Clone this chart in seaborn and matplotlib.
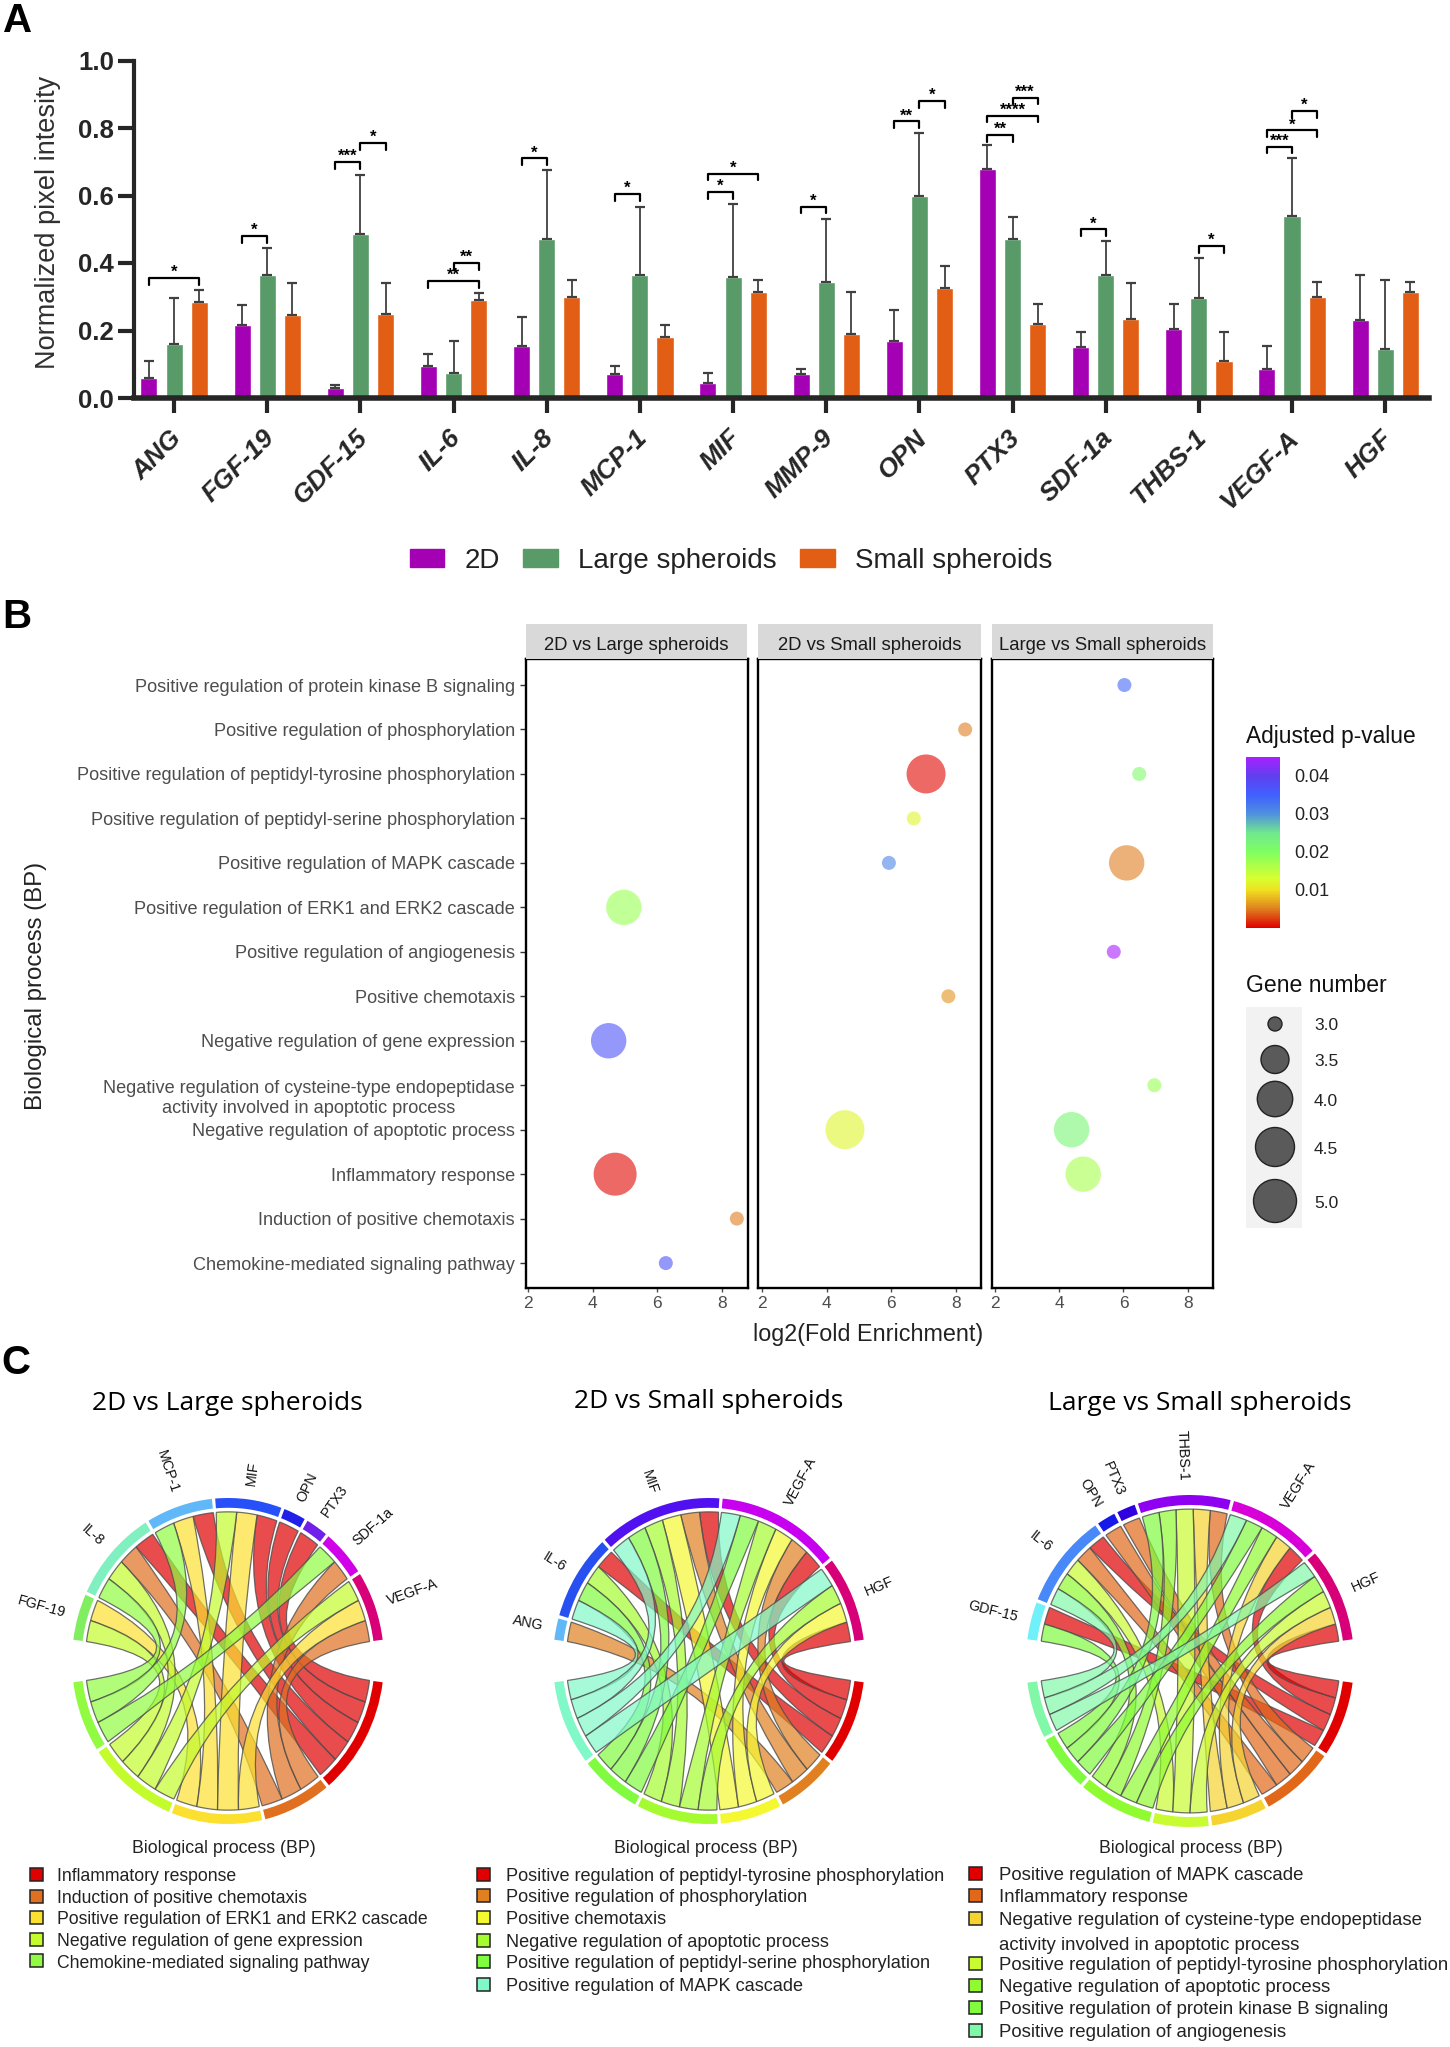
import numpy as np
import pandas as pd
import matplotlib
matplotlib.use("Agg")
import matplotlib.pyplot as plt
import seaborn as sns
from matplotlib.colors import LinearSegmentedColormap, Normalize
from matplotlib.cm import ScalarMappable
from matplotlib.patches import PathPatch, Rectangle, Wedge
from matplotlib.path import Path
from matplotlib.transforms import ScaledTranslation

# ------------------------------- Panel A data
genes_a = ["ANG", "FGF-19", "GDF-15", "IL-6", "IL-8", "MCP-1", "MIF", "MMP-9", "OPN", "PTX3",
           "SDF-1a", "THBS-1", "VEGF-A", "HGF"]
groups_a = ["2D", "Large spheroids", "Small spheroids"]
colors_a = ["#A400B4", "#589A68", "#E25E14"]
mean_2d = [.06, .215, .03, .095, .155, .07, .045, .07, .17, .68, .15, .205, .085, .23]
mean_large = [.16, .365, .485, .075, .47, .365, .36, .345, .60, .47, .365, .295, .54, .145]
mean_small = [.285, .245, .25, .29, .30, .18, .315, .19, .325, .22, .235, .11, .30, .315]
top_2d = [.11, .275, .04, .13, .24, .095, .075, .085, .26, .75, .195, .28, .155, .365]
top_large = [.295, .445, .66, .17, .675, .565, .575, .53, .785, .535, .465, .415, .71, .35]
top_small = [.32, .34, .34, .31, .35, .215, .35, .315, .39, .28, .34, .195, .345, .345]
# gene index, first group, second group, height, stars
brackets_a = [(0, 0, 2, .356, "*"), (1, 0, 1, .48, "*"), (2, 0, 1, .70, "***"), (2, 1, 2, .756, "*"),
              (3, 0, 2, .346, "**"), (3, 1, 2, .40, "**"), (4, 0, 1, .71, "*"), (5, 0, 1, .605, "*"),
              (6, 0, 1, .61, "*"), (6, 0, 2, .665, "*"), (7, 0, 1, .567, "*"), (8, 0, 1, .82, "**"),
              (8, 1, 2, .88, "*"), (9, 0, 1, .78, "**"), (9, 0, 2, .837, "****"), (9, 1, 2, .89, "***"),
              (10, 0, 1, .50, "*"), (11, 1, 2, .45, "*"), (12, 0, 1, .745, "***"), (12, 0, 2, .793, "*"),
              (12, 1, 2, .85, "*")]

# ------------------------------- Panel B data
terms_b = ["Positive regulation of protein kinase B signaling",
           "Positive regulation of phosphorylation",
           "Positive regulation of peptidyl-tyrosine phosphorylation",
           "Positive regulation of peptidyl-serine phosphorylation",
           "Positive regulation of MAPK cascade",
           "Positive regulation of ERK1 and ERK2 cascade",
           "Positive regulation of angiogenesis",
           "Positive chemotaxis",
           "Negative regulation of gene expression",
           "Negative regulation of cysteine-type endopeptidase\nactivity involved in apoptotic process",
           "Negative regulation of apoptotic process",
           "Inflammatory response",
           "Induction of positive chemotaxis",
           "Chemokine-mediated signaling pathway"]
panels_b = ["2D vs Large spheroids", "2D vs Small spheroids", "Large vs Small spheroids"]
b_panel = [0, 0, 0, 0, 0,
           1, 1, 1, 1, 1, 1,
           2, 2, 2, 2, 2, 2, 2]
b_term = [5, 8, 11, 12, 13,
          1, 2, 3, 4, 7, 10,
          0, 2, 4, 6, 9, 10, 11]
b_fold = [4.97, 4.5, 4.7, 8.47, 6.27,
          8.29, 7.08, 6.7, 5.93, 7.77, 4.57,
          6.03, 6.49, 6.1, 5.7, 6.96, 4.39, 4.75]
b_padj = [.018, .037, .0002, .005, .037,
          .005, .0002, .012, .031, .006, .012,
          .034, .021, .005, .045, .018, .022, .017]
b_genes = [4, 4, 5, 3, 3,
           3, 4.5, 3, 3, 3, 4.5,
           3, 3, 4, 3, 3, 4, 4]
gene_levels = [3.0, 3.5, 4.0, 4.5, 5.0]
gene_radii_px = [7, 14, 17.7, 19.5, 21.5]
padj_stops = [(0, "#E00000"), (.005, "#E08020"), (.010, "#F0E020"), (.013, "#D8FF30"),
              (.020, "#80FF60"), (.025, "#70E890"), (.030, "#5090E0"), (.035, "#4060FF"),
              (.040, "#6040F0"), (.045, "#A820FF")]

# ------------------------------- Panel C data
c1_genes = ["FGF-19", "IL-8", "MCP-1", "MIF", "OPN", "PTX3", "SDF-1a", "VEGF-A"]
c1_gene_colors = ["#80EE60", "#80F0C0", "#60B8F8", "#2850F8", "#2020E8", "#7020E8", "#D000E8", "#D80078"]
c1_bps = ["Inflammatory response", "Induction of positive chemotaxis",
          "Positive regulation of ERK1 and ERK2 cascade", "Negative regulation of gene expression",
          "Chemokine-mediated signaling pathway"]
c1_bp_colors = ["#E00000", "#E07020", "#FBE030", "#C4FB2C", "#90FB40"]
c1_links = [[3, 2], [4, 3, 1, 0], [4, 2, 0], [3, 2, 0], [0], [0], [4, 1], [3, 2, 1]]

c2_genes = ["ANG", "IL-6", "MIF", "VEGF-A", "HGF"]
c2_gene_colors = ["#60B8F8", "#2850F0", "#5010F0", "#C800F0", "#D80078"]
c2_bps = ["Positive regulation of peptidyl-tyrosine phosphorylation", "Positive regulation of phosphorylation",
          "Positive chemotaxis", "Negative regulation of apoptotic process",
          "Positive regulation of peptidyl-serine phosphorylation", "Positive regulation of MAPK cascade"]
c2_bp_colors = ["#E00000", "#E08020", "#F4F830", "#A4FB30", "#80FB40", "#80F8C8"]
c2_links = [[1], [5, 4, 3, 0], [5, 4, 3, 2, 1, 0], [5, 4, 3, 2, 1, 0], [5, 3, 2, 0]]

c3_genes = ["GDF-15", "IL-6", "OPN", "PTX3", "THBS-1", "VEGF-A", "HGF"]
c3_gene_colors = ["#70F0F8", "#4888F8", "#1818E8", "#3000E0", "#9000F0", "#D800D8", "#D80078"]
c3_bps = ["Positive regulation of MAPK cascade", "Inflammatory response",
          "Negative regulation of cysteine-type endopeptidase\nactivity involved in apoptotic process",
          "Positive regulation of peptidyl-tyrosine phosphorylation", "Negative regulation of apoptotic process",
          "Positive regulation of protein kinase B signaling", "Positive regulation of angiogenesis"]
c3_bp_colors = ["#E00000", "#E06818", "#F6D430", "#C8FB30", "#90FB30", "#80FB40", "#80F8A8"]
c3_links = [[5, 0], [6, 4, 3, 1, 0], [1], [1], [5, 4, 3, 2, 1], [6, 5, 4, 2, 0], [6, 4, 3, 2, 0]]

# ------------------------------- Setup
W, H = 1450, 2047
sns.set_style("white")
plt.rcParams["font.family"] = ["Liberation Sans", "DejaVu Sans"]
fig = plt.figure(figsize=(W / 100, H / 100), dpi=100, facecolor="white")


def px_axes(x0, y0, x1, y1, **kw):
    return fig.add_axes([x0 / W, 1 - y1 / H, (x1 - x0) / W, (y1 - y0) / H], **kw)


ov = px_axes(0, 0, W, H, zorder=10)
ov.set_xlim(0, W)
ov.set_ylim(H, 0)
ov.axis("off")
ov.patch.set_alpha(0)

for letter, x, y in [("A", 3, 21), ("B", 2, 617), ("C", 1, 1363)]:
    ov.text(x, y, letter, fontsize=29, fontweight="bold", va="center", ha="left", color="black")

# ------------------------------- Panel A
ax = px_axes(134, 60.5, 1429, 398)
df_a = pd.DataFrame({"gene": genes_a * 3,
                     "group": sum([[g] * len(genes_a) for g in groups_a], []),
                     "value": mean_2d + mean_large + mean_small})
sns.barplot(data=df_a, x="gene", y="value", hue="group", hue_order=groups_a, order=genes_a,
            palette=colors_a, width=0.81, gap=0.32, errorbar=None, ax=ax, legend=False, saturation=1)
tops = [top_2d, top_large, top_small]
centers = []
for cont, top in zip(ax.containers, tops):
    xs = [b.get_x() + b.get_width() / 2 for b in cont]
    hs = [b.get_height() for b in cont]
    centers.append(xs)
    ax.errorbar(xs, hs, yerr=[np.zeros(len(hs)), np.array(top) - np.array(hs)], fmt="none",
                ecolor="#404040", elinewidth=1.3, capsize=3.4, capthick=1.6, zorder=3)
for g, a, b, y, s in brackets_a:
    xa, xb = centers[a][g], centers[b][g]
    ax.plot([xa, xa, xb, xb], [y - .02, y, y, y - .02], color="black", lw=1.6, clip_on=False, zorder=4)
    ax.text((xa + xb) / 2, y - .006, s, ha="center", va="bottom", fontsize=12, fontweight="bold",
            color="black", zorder=4)
ax.set_xlim(-0.43, 13.47)
ax.set_ylim(0, 1)
ax.set_yticks([0, .2, .4, .6, .8, 1.0], ["0.0", "0.2", "0.4", "0.6", "0.8", "1.0"])
ax.set_ylabel("Normalized pixel intesity", fontsize=19.5, color="#303030", labelpad=12, y=.52)
ax.set_xlabel("")
sns.despine(ax=ax)
ax.spines["left"].set_linewidth(3)
ax.spines["bottom"].set_linewidth(4)
ax.tick_params(axis="y", length=11.5, width=3, labelsize=18.5, left=True, pad=3)
ax.tick_params(axis="x", length=11, width=3, labelsize=19, bottom=True, pad=9)
for t in ax.get_yticklabels():
    t.set_fontweight("bold")
shift = ScaledTranslation(-5 / 100, 0, fig.dpi_scale_trans)
for t in ax.get_xticklabels():
    t.set_fontweight("bold")
    t.set_fontstyle("italic")
    t.set_rotation(45)
    t.set_ha("right")
    t.set_rotation_mode("anchor")
    t.set_transform(t.get_transform() + shift)
handles_a = [Rectangle((0, 0), 1, 1, color=c) for c in colors_a]
fig.legend(handles_a, groups_a, loc="center", bbox_to_anchor=(731 / W, 1 - 560.5 / H), ncol=3, frameon=False,
           fontsize=20, handlelength=1.25, handleheight=.62, handletextpad=.72, columnspacing=.85,
           labelcolor="#222222")

# ------------------------------- Panel B
cmap_b = LinearSegmentedColormap.from_list("padj", [(v / .045, c) for v, c in padj_stops])
norm_b = Normalize(0, .045)
size_map = {g: (2 * r * .72) ** 2 for g, r in zip(gene_levels, gene_radii_px)}
df_b = pd.DataFrame({"panel": b_panel, "term": b_term, "fold": b_fold, "padj": b_padj, "genes": b_genes})
frames_b = [(526, 747.5, 1.94, 8.8), (758, 981, 1.88, 8.78), (992, 1213, 1.92, 8.78)]
for i, (x0, x1, lo, hi) in enumerate(frames_b):
    a = px_axes(x0, 659, x1, 1288)
    sns.scatterplot(data=df_b[df_b.panel == i], x="fold", y="term", hue="padj", hue_norm=norm_b, palette=cmap_b,
                    size="genes", sizes=size_map, alpha=.6, linewidth=0, legend=False, ax=a)
    a.set_xlim(lo, hi)
    a.set_ylim(13.56, -0.585)
    a.set_xticks([2, 4, 6, 8])
    a.set_xlabel("")
    a.set_ylabel("")
    for sp in a.spines.values():
        sp.set_linewidth(1.7)
        sp.set_color("black")
        sp.set_visible(True)
    a.tick_params(axis="x", length=3, width=1, colors="#4D4D4D", labelsize=12.5, bottom=True, pad=3)
    a.set_yticks(range(len(terms_b)))
    if i == 0:
        a.set_yticklabels(terms_b, fontsize=13.1, color="#4D4D4D", multialignment="center", linespacing=1.2)
        a.tick_params(axis="y", length=4, width=1, left=True, color="#333333", pad=4)
        wrapped = a.get_yticklabels()[9]
        wrapped.set_transform(wrapped.get_transform() + ScaledTranslation(0, -10 / 100, fig.dpi_scale_trans))
    else:
        a.set_yticklabels([])
        a.tick_params(axis="y", length=0)
    ov.add_patch(Rectangle((x0, 624), x1 - x0, 35, color="#D9D9D9", lw=0))
    ov.text((x0 + x1) / 2, 645, panels_b[i], ha="center", va="center", fontsize=13.3, color="#1A1A1A")
ov.text(868, 1335, "log2(Fold Enrichment)", ha="center", va="center", fontsize=16.8, color="#222222")
ov.text(36.5, 986, "Biological process (BP)", ha="center", va="center", rotation=90, fontsize=17.3, color="#222222")

cax = px_axes(1246, 757, 1280, 928)
cb = fig.colorbar(ScalarMappable(norm_b, cmap_b), cax=cax, ticks=[.01, .02, .03, .04])
cb.outline.set_visible(False)
cax.tick_params(axis="y", direction="in", left=True, right=True, labelright=True, color="white", length=7,
                width=1, labelsize=13, pad=10, labelcolor="#222222")
cb.set_ticklabels(["0.01", "0.02", "0.03", "0.04"])
ov.text(1246, 736, "Adjusted p-value", ha="left", va="center", fontsize=16.4, color="#111111")
ov.text(1246, 986, "Gene number", ha="left", va="center", fontsize=16.6, color="#111111")

kax = px_axes(1246, 1007, 1302, 1228)
kax.set_xlim(1246, 1302)
kax.set_ylim(1228, 1007)
kax.set_facecolor("#F2F2F2")
key_rows = [1024, 1059.5, 1099, 1147, 1201]
sns.scatterplot(x=[1275] * 5, y=key_rows, size=gene_levels, sizes=size_map, color="#5A5A5A", edgecolor="#222222",
                linewidth=1, legend=False, ax=kax)
kax.set_xticks([])
kax.set_yticks([])
for sp in kax.spines.values():
    sp.set_visible(False)
for y, g in zip(key_rows, gene_levels):
    ov.text(1314, y + 2, f"{g:.1f}", ha="left", va="center", fontsize=12.5, color="#222222")


# ------------------------------- Panel C
def chord(cx, cy, rx, ry, genes, gene_colors, links, bps, bp_colors, gap=1.2, half_gap=7.5, ctrl=.05):
    m = 1.3
    a = px_axes(cx - m * rx, cy - m * ry, cx + m * rx, cy + m * ry)
    a.set_xlim(-m, m)
    a.set_ylim(-m, m)
    a.axis("off")
    a.patch.set_alpha(0)
    n_links = sum(len(l) for l in links)
    span = 180 - 2 * half_gap
    u_top = (span - gap * (len(genes) - 1)) / n_links
    u_bot = (span - gap * (len(bps) - 1)) / n_links

    R_out, R_in, R_ch = 1.0, .94, .915

    def ring(t1, t2, color):
        a.add_patch(Wedge((0, 0), R_out, t2, t1, width=R_out - R_in, color=color, lw=0))

    # gene sectors, clockwise from upper left
    gene_spans = {}
    th = 180 - half_gap
    for i, (g, c) in enumerate(zip(genes, gene_colors)):
        w = len(links[i]) * u_top
        ring(th, th - w, c)
        mid = th - w / 2
        r = mid if mid <= 90 else mid - 180
        ha = "left" if mid <= 90 else "right"
        a.text(1.085 * np.cos(np.radians(mid)), 1.085 * np.sin(np.radians(mid)), g, rotation=r, ha=ha, va="center",
               rotation_mode="anchor", fontsize=10.3, color="#111111")
        for k, bp in enumerate(links[i]):
            gene_spans[(i, bp)] = (th - k * u_top, th - (k + 1) * u_top)
        th -= w + gap
    # process sectors, clockwise from the right
    bp_spans = {}
    th = -half_gap
    for j, c in enumerate(bp_colors):
        members = [i for i in range(len(genes))[::-1] if j in links[i]]
        w = len(members) * u_bot
        ring(th, th - w, c)
        for k, i in enumerate(members):
            bp_spans[(i, j)] = (th - k * u_bot, th - (k + 1) * u_bot)
        th -= w + gap

    def pt(d):
        return (R_ch * np.cos(np.radians(d)), R_ch * np.sin(np.radians(d)))

    def control(d1, d2):
        # on the bisector of the shorter arc between the two end angles
        s = np.arctan2(np.sin(np.radians(d1)) + np.sin(np.radians(d2)),
                       np.cos(np.radians(d1)) + np.cos(np.radians(d2)))
        return (ctrl * np.cos(s), ctrl * np.sin(s))

    for j, c in enumerate(bp_colors):
        for i in range(len(genes)):
            if (i, j) not in gene_spans:
                continue
            a1, a2 = gene_spans[(i, j)]
            b1, b2 = bp_spans[(i, j)]
            verts = [pt(a1)]
            codes = [Path.MOVETO]
            for d in np.linspace(a1, a2, 8)[1:]:
                verts.append(pt(d))
                codes.append(Path.LINETO)
            verts += [control(a2, b1), pt(b1)]
            codes += [Path.CURVE3, Path.CURVE3]
            for d in np.linspace(b1, b2, 8)[1:]:
                verts.append(pt(d))
                codes.append(Path.LINETO)
            verts += [control(a1, b2), pt(a1)]
            codes += [Path.CURVE3, Path.CURVE3]
            rgba = matplotlib.colors.to_rgba(c, .7)
            a.add_patch(PathPatch(Path(verts, codes), facecolor=rgba, edgecolor=(.3, .3, .3, .8), lw=.9))


def key(x_box, x_text, rows, names, colors, size):
    for y, n, c in zip(rows, names, colors):
        ov.add_patch(Rectangle((x_box, y - 6.5), 13, 13, facecolor=c, edgecolor="#222222", lw=1.1))
        parts = n.split("\n")
        ov.text(x_text, y + 2.5, parts[0], ha="left", va="center", fontsize=size, color="#222222")
        if len(parts) > 1:
            ov.text(x_text, y + 27, parts[1], ha="left", va="center", fontsize=size, color="#222222")


chord(228, 1661, 156, 163, c1_genes, c1_gene_colors, c1_links, c1_bps, c1_bp_colors)
chord(709, 1661, 156, 163, c2_genes, c2_gene_colors, c2_links, c2_bps, c2_bp_colors)
chord(1190, 1661, 164, 166, c3_genes, c3_gene_colors, c3_links, c3_bps, c3_bp_colors)

for x, y, t in [(227, 1404, panels_b[0]), (709, 1402, panels_b[1]), (1200, 1404, panels_b[2])]:
    ov.text(x, y, t, ha="center", va="center", fontsize=19, family="Open Sans", color="black")
for x in [224, 706, 1191]:
    ov.text(x, 1848.5, "Biological process (BP)", ha="center", va="center", fontsize=12.8, color="#222222")
key(30, 57.5, [1874, 1896, 1917.5, 1939, 1960.5], c1_bps, c1_bp_colors, 12.7)
key(477, 506, [1874, 1895, 1917.5, 1940, 1961.5, 1984], c2_bps, c2_bp_colors, 13.1)
key(969, 999, [1873, 1895, 1918, 1963, 1985, 2007, 2030], c3_bps, c3_bp_colors, 13.4)

fig.savefig("out.png", dpi=100, facecolor="white")
